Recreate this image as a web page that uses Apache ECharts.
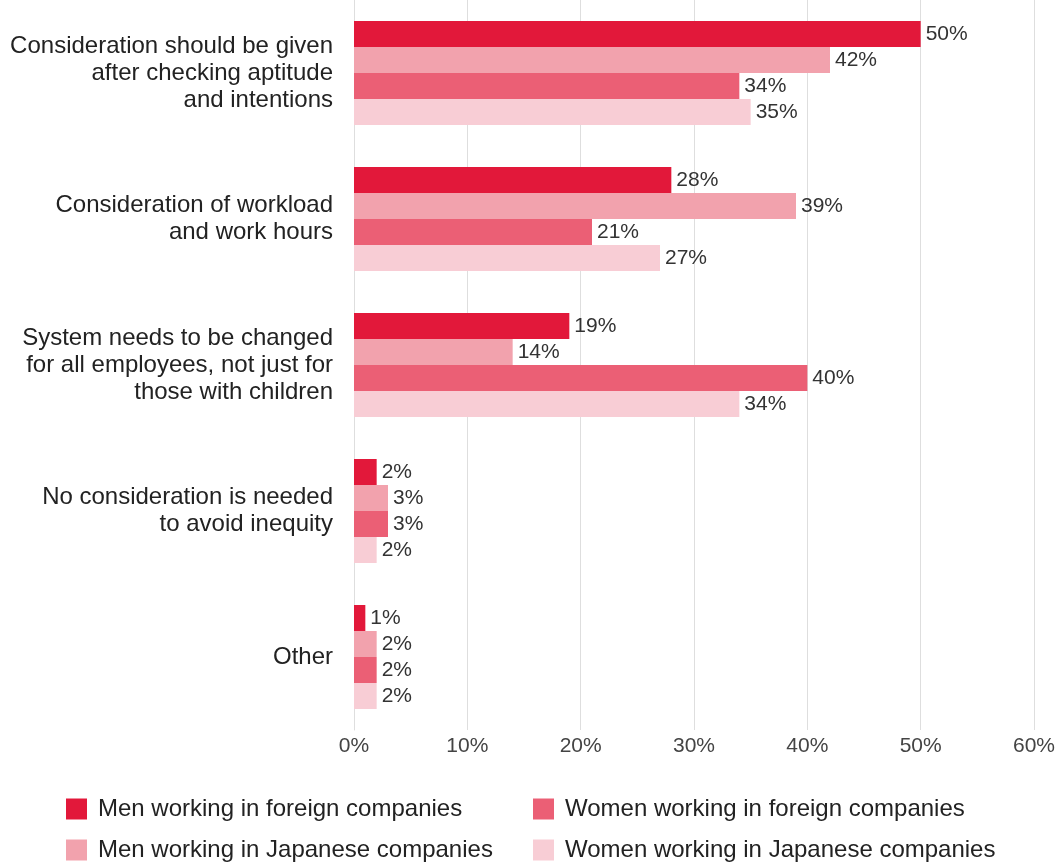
<!DOCTYPE html>
<html>
<head>
<meta charset="utf-8">
<script src="https://cdn.jsdelivr.net/npm/echarts@6/dist/echarts.min.js"></script>
<style>
  html, body { margin: 0; padding: 0; background: #fff; }
  #chart { width: 1059px; height: 862px; }
</style>
</head>
<body>
<div id="chart"></div>
<script>
// Survey answers (share of respondents, %)
const categories = [
  'Consideration should be given\nafter checking aptitude\nand intentions',
  'Consideration of workload\nand work hours',
  'System needs to be changed\nfor all employees, not just for\nthose with children',
  'No consideration is needed\nto avoid inequity',
  'Other'
];
const seriesNames = [
  'Men working in foreign companies',
  'Men working in Japanese companies',
  'Women working in foreign companies',
  'Women working in Japanese companies'
];
const menForeign = [50, 28, 19, 2, 1];
const menJapanese = [42, 39, 14, 3, 2];
const womenForeign = [34, 21, 40, 3, 2];
const womenJapanese = [35, 27, 34, 2, 2];
const colors = ['#E2183A', '#F2A2AD', '#EB5F75', '#F8CDD5'];

const FONT = '"Liberation Sans", Arial, sans-serif';
const values = [menForeign, menJapanese, womenForeign, womenJapanese];

// legend slots: two columns, two rows
const legendPos = [
  { left: 66, top: 797 },
  { left: 66, top: 838 },
  { left: 533, top: 797 },
  { left: 533, top: 838 }
];

const chart = echarts.init(document.getElementById('chart'));
chart.setOption({
  animation: false,
  textStyle: { fontFamily: FONT },
  grid: { left: 354, right: 25, top: -3, bottom: 132, containLabel: false },
  xAxis: {
    type: 'value',
    min: 0, max: 60, interval: 10,
    axisLine: { show: false },
    axisTick: { show: false },
    splitLine: { show: true, lineStyle: { color: '#dedede', width: 1 } },
    axisLabel: { formatter: '{value}%', fontSize: 21, color: '#444', margin: 6, fontFamily: FONT }
  },
  yAxis: {
    type: 'category',
    inverse: true,
    data: categories,
    axisLine: { show: true, lineStyle: { color: '#dedede' } },
    axisTick: { show: false },
    axisLabel: { fontSize: 24, color: '#222', lineHeight: 27, margin: 21, align: 'right', fontFamily: FONT }
  },
  legend: seriesNames.map((name, i) => ({
    data: [name],
    left: legendPos[i].left, top: legendPos[i].top,
    padding: 0,
    itemWidth: 21, itemHeight: 21,
    icon: 'rect',
    textStyle: { fontSize: 24, color: '#222', fontFamily: FONT, padding: [0, 0, 0, 6] }
  })),
  series: values.map((d, i) => ({
    name: seriesNames[i],
    type: 'bar',
    data: d,
    barWidth: 26,
    barGap: '0%',
    itemStyle: { color: colors[i] },
    label: {
      show: true, position: 'right', distance: 5,
      formatter: '{c}%', fontSize: 21, color: '#333', fontFamily: FONT
    }
  }))
});
</script>
</body>
</html>
